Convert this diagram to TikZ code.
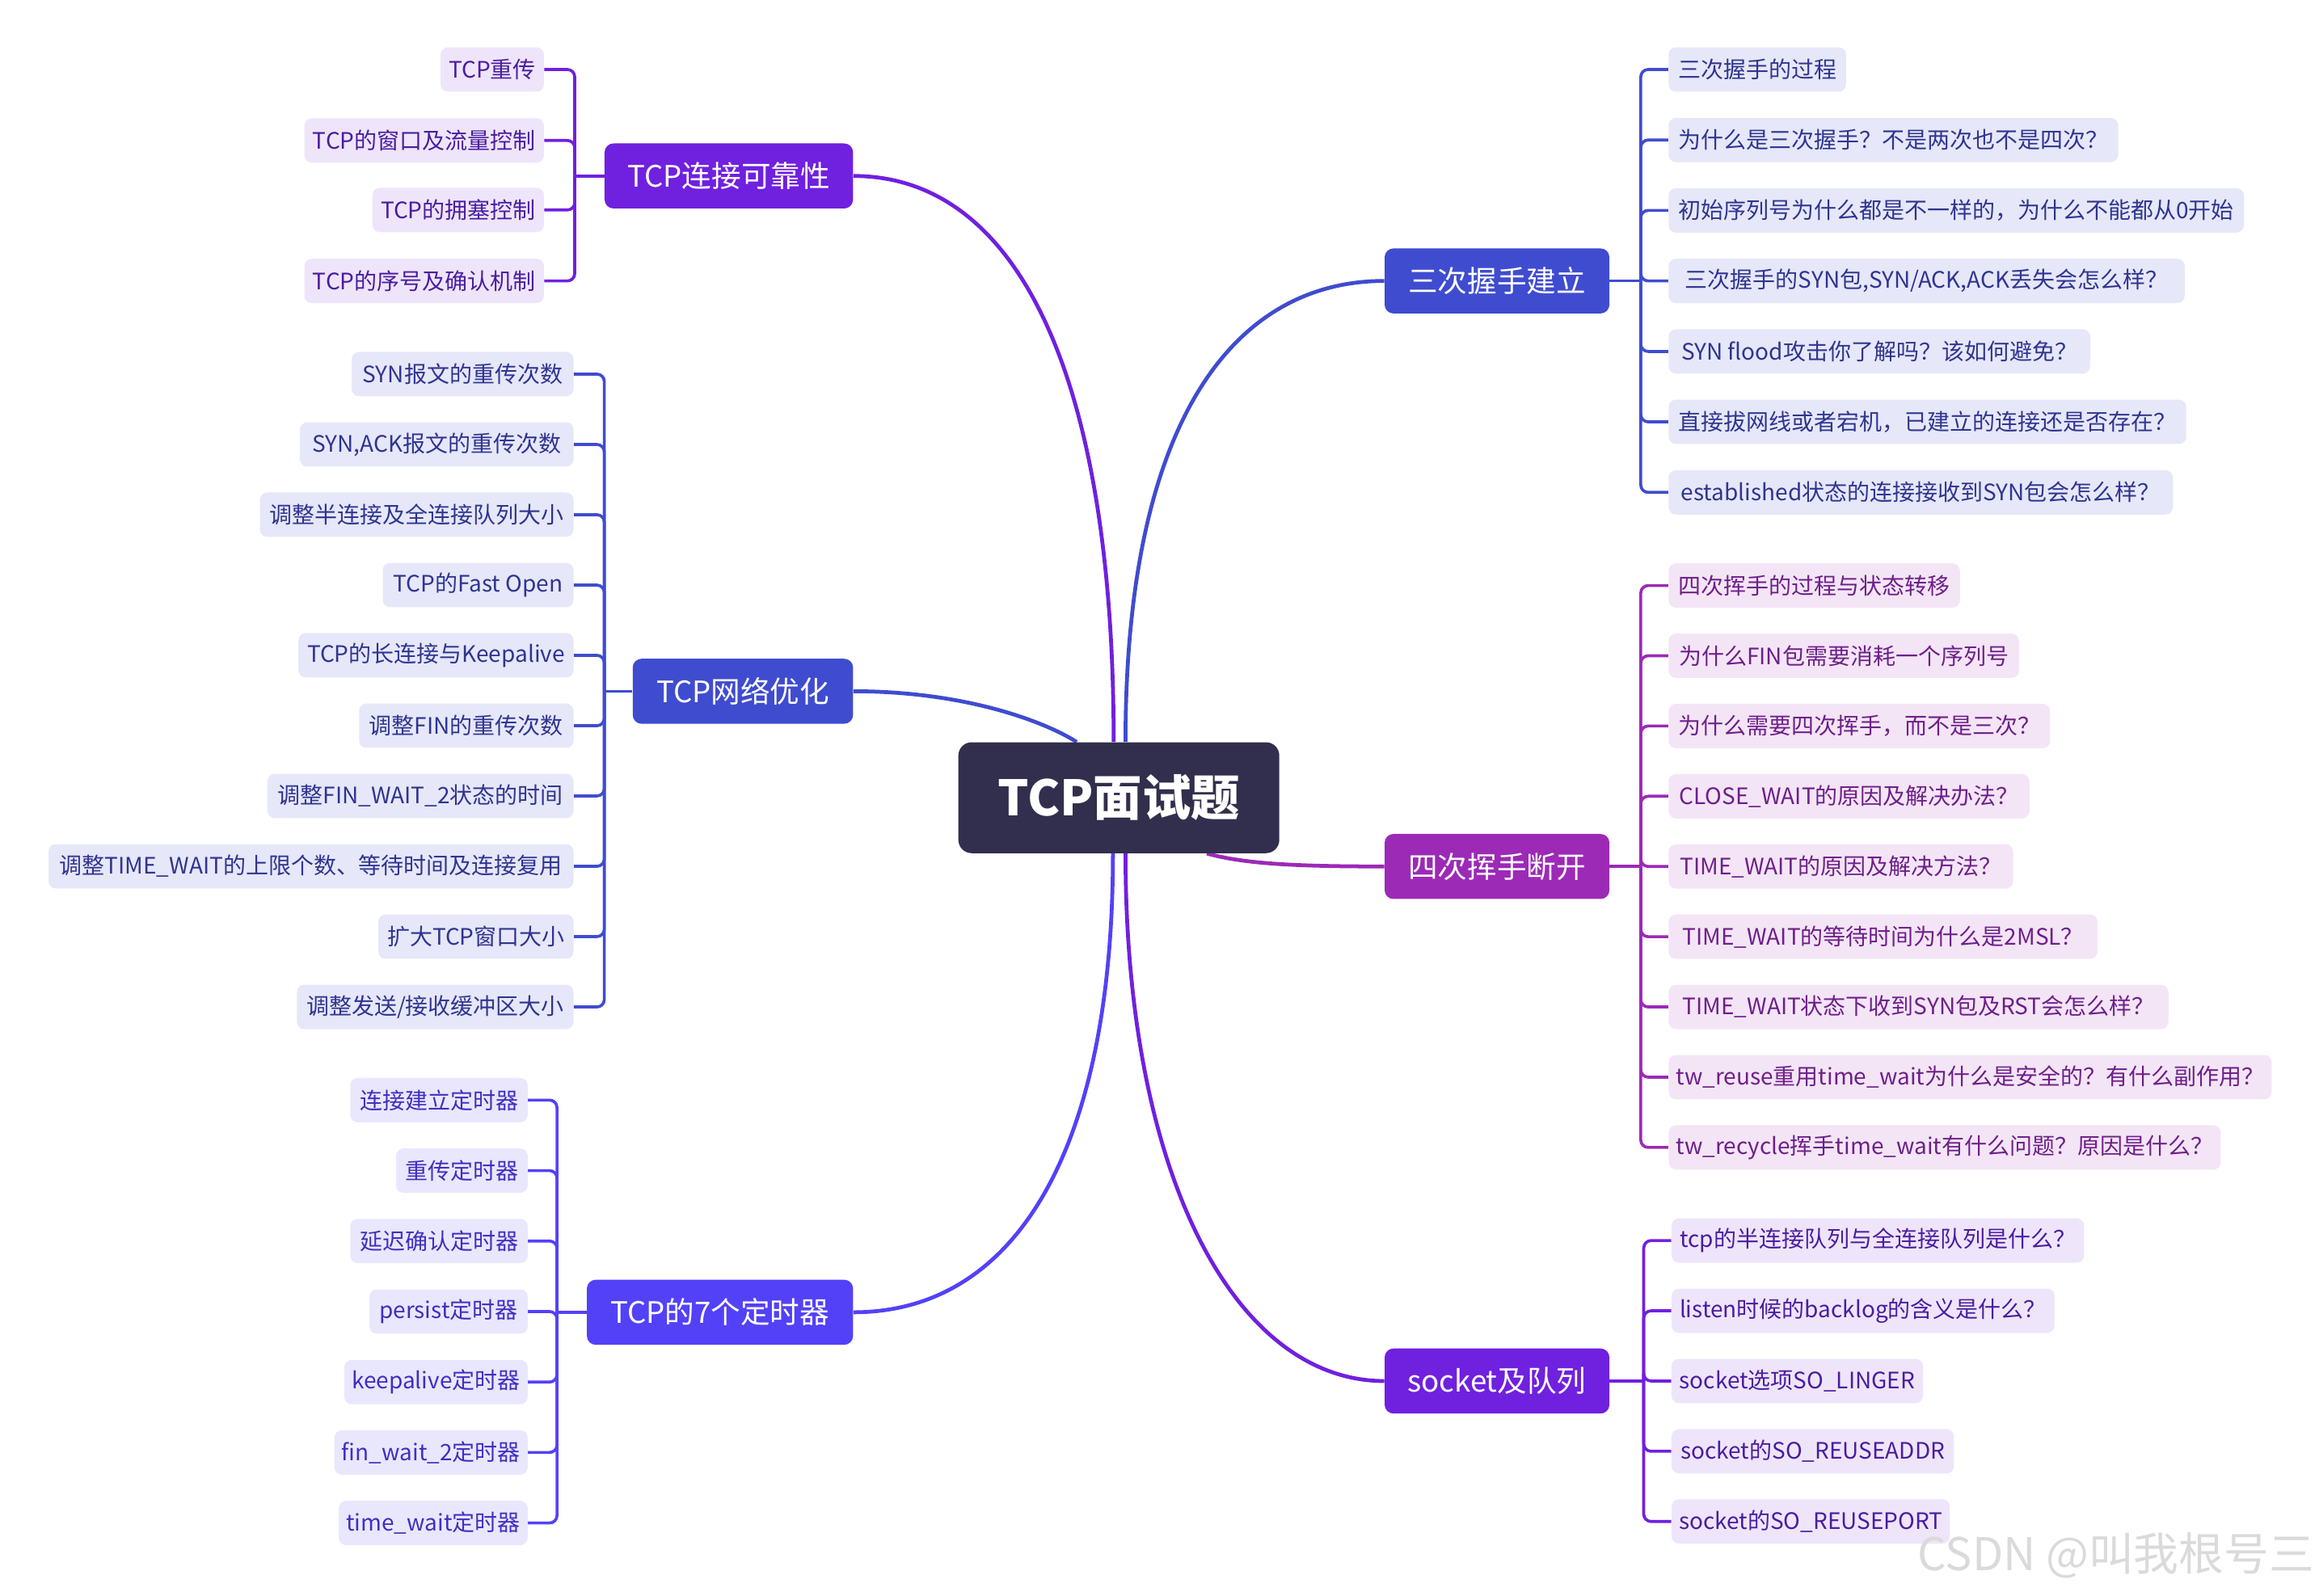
\documentclass[tikz,border=0pt]{standalone}
\usepackage{fontspec}
\setmainfont{Noto Sans CJK SC}
\usetikzlibrary{calc,backgrounds}
\definecolor{rootc}{HTML}{312F4D}
\definecolor{purp}{HTML}{7020DF}
\definecolor{blu}{HTML}{3F4CCF}
\definecolor{mag}{HTML}{9C2AB6}
\definecolor{vio}{HTML}{5341F8}
\definecolor{purpL}{HTML}{EEE5FB}
\definecolor{bluL}{HTML}{E6E7F8}
\definecolor{magL}{HTML}{F3E5F6}
\definecolor{vioL}{HTML}{E9E7FE}
\definecolor{purpT}{HTML}{4B1DA0}
\definecolor{bluT}{HTML}{2F3590}
\definecolor{magT}{HTML}{6F1F8A}
\definecolor{vioT}{HTML}{3F2FC0}
\definecolor{wmc}{HTML}{DADADA}
\tikzset{
  rootn/.style={fill=rootc, text=white, rounded corners=9pt, minimum width=217pt, minimum height=75pt, inner sep=0pt, font=\fontsize{33}{40}\selectfont\bfseries},
  branch/.style={text=white, rounded corners=6pt, minimum height=44pt, inner sep=0pt, font=\fontsize{20}{24}\selectfont},
  branchL/.style={branch, anchor=east},
  branchR/.style={branch, anchor=west},
  kid/.style={rounded corners=5pt, minimum height=30pt, inner xsep=5pt, inner ysep=0pt, font=\fontsize{15.3}{18}\selectfont},
  kidA/.style={kid, anchor=east, fill=purpL, text=purpT},
  kidB/.style={kid, anchor=east, fill=bluL, text=bluT},
  kidC/.style={kid, anchor=east, fill=vioL, text=vioT},
  kidD/.style={kid, anchor=west, fill=bluL, text=bluT},
  kidE/.style={kid, anchor=west, fill=magL, text=magT},
  kidF/.style={kid, anchor=west, fill=purpL, text=purpT},
  bus/.style={line width=2pt, rounded corners=5pt},
  trunk/.style={line width=2.6pt},
  wm/.style={text=wmc, font=\fontsize{30.5}{36}\selectfont, inner sep=0pt}
}
\begin{document}
\begin{tikzpicture}[x=1pt,y=-1pt]
\useasboundingbox (0,0) rectangle (1568,1079);

% root
\node[rootn] (root) at (756.5,539.5) {TCP面试题};

% branches
\node[branchL, fill=purp, minimum width=168pt] (b1) at (577,119) {TCP连接可靠性};
\node[branchL, fill=blu, minimum width=149pt] (b2) at (577,467.5) {TCP网络优化};
\node[branchL, fill=vio, minimum width=180pt] (b3) at (577,887.5) {TCP的7个定时器};
\node[branchR, fill=blu, minimum width=152pt] (b4) at (936,190) {三次握手建立};
\node[branchR, fill=mag, minimum width=152pt] (b5) at (936,586) {四次挥手断开};
\node[branchR, fill=purp, minimum width=152pt] (b6) at (936,934) {socket及队列};

% junction points on the buses
\coordinate (ja) at ([xshift=-20pt]b1.west);
\coordinate (jb) at ([xshift=-19pt]b2.west);
\coordinate (jc) at ([xshift=-20pt]b3.west);
\coordinate (jd) at ([xshift=21pt]b4.east);
\coordinate (je) at ([xshift=21pt]b5.east);
\coordinate (jf) at ([xshift=23pt]b6.east);

% TCP连接可靠性 children
\node[kidA, minimum width=70pt] (a1) at (368,47) {TCP重传};
\node[kidA, minimum width=162pt] (a2) at (368,95) {TCP的窗口及流量控制};
\node[kidA, minimum width=116pt] (a3) at (368,142) {TCP的拥塞控制};
\node[kidA, minimum width=162pt] (a4) at (368,190) {TCP的序号及确认机制};

% TCP网络优化 children
\node[kidB, minimum width=150pt] (n1) at (388,253) {SYN报文的重传次数};
\node[kidB, minimum width=185pt] (n2) at (388,300.6) {SYN,ACK报文的重传次数};
\node[kidB, minimum width=212pt] (n3) at (388,348.1) {调整半连接及全连接队列大小};
\node[kidB, minimum width=129pt] (n4) at (388,395.7) {TCP的Fast Open};
\node[kidB, minimum width=186pt] (n5) at (388,443.2) {TCP的长连接与Keepalive};
\node[kidB, minimum width=145pt] (n6) at (388,490.8) {调整FIN的重传次数};
\node[kidB, minimum width=207pt] (n7) at (388,538.3) {调整FIN\_WAIT\_2状态的时间};
\node[kidB, minimum width=355pt] (n8) at (388,585.9) {调整TIME\_WAIT的上限个数、等待时间及连接复用};
\node[kidB, minimum width=132pt] (n9) at (388,633.4) {扩大TCP窗口大小};
\node[kidB, minimum width=187pt] (n10) at (388,681) {调整发送/接收缓冲区大小};

% TCP的7个定时器 children
\node[kidC, minimum width=120pt] (t1) at (357,744) {连接建立定时器};
\node[kidC, minimum width=89pt] (t2) at (357,791.7) {重传定时器};
\node[kidC, minimum width=120pt] (t3) at (357,839.3) {延迟确认定时器};
\node[kidC, minimum width=107pt] (t4) at (357,887) {persist定时器};
\node[kidC, minimum width=124pt] (t5) at (357,934.7) {keepalive定时器};
\node[kidC, minimum width=127pt] (t6) at (357,982.3) {fin\_wait\_2定时器};
\node[kidC, minimum width=125pt] (t7) at (357,1030) {time\_wait定时器};

% 三次握手建立 children
\node[kidD, minimum width=120pt] (s1) at (1128,47) {三次握手的过程};
\node[kidD, minimum width=304pt] (s2) at (1128,94.7) {为什么是三次握手？不是两次也不是四次？};
\node[kidD, minimum width=389pt] (s3) at (1128,142.3) {初始序列号为什么都是不一样的，为什么不能都从0开始};
\node[kidD, minimum width=349pt] (s4) at (1128,190) {三次握手的SYN包,SYN/ACK,ACK丢失会怎么样？};
\node[kidD, minimum width=285pt] (s5) at (1128,237.7) {SYN flood攻击你了解吗？该如何避免？};
\node[kidD, minimum width=350pt] (s6) at (1128,285.3) {直接拔网线或者宕机，已建立的连接还是否存在？};
\node[kidD, minimum width=341pt] (s7) at (1128,333) {established状态的连接接收到SYN包会怎么样？};

% 四次挥手断开 children
\node[kidE, minimum width=197pt] (f1) at (1128,396) {四次挥手的过程与状态转移};
\node[kidE, minimum width=237pt] (f2) at (1128,443.5) {为什么FIN包需要消耗一个序列号};
\node[kidE, minimum width=258pt] (f3) at (1128,491) {为什么需要四次挥手，而不是三次？};
\node[kidE, minimum width=244pt] (f4) at (1128,538.5) {CLOSE\_WAIT的原因及解决办法？};
\node[kidE, minimum width=233pt] (f5) at (1128,586) {TIME\_WAIT的原因及解决方法？};
\node[kidE, minimum width=290pt] (f6) at (1128,633.5) {TIME\_WAIT的等待时间为什么是2MSL？};
\node[kidE, minimum width=338pt] (f7) at (1128,681) {TIME\_WAIT状态下收到SYN包及RST会怎么样？};
\node[kidE, minimum width=407pt] (f8) at (1128,728.5) {tw\_reuse重用time\_wait为什么是安全的？有什么副作用？};
\node[kidE, minimum width=373pt] (f9) at (1128,776) {tw\_recycle挥手time\_wait有什么问题？原因是什么？};

% socket及队列 children
\node[kidF, minimum width=279pt] (k1) at (1130,839) {tcp的半连接队列与全连接队列是什么？};
\node[kidF, minimum width=259pt] (k2) at (1130,886.5) {listen时候的backlog的含义是什么？};
\node[kidF, minimum width=170pt] (k3) at (1130,934) {socket选项SO\_LINGER};
\node[kidF, minimum width=191pt] (k4) at (1130,981.5) {socket的SO\_REUSEADDR};
\node[kidF, minimum width=187pt] (k5) at (1130,1029) {socket的SO\_REUSEPORT};

% watermark
\node[wm, anchor=east] (wm) at (1565,1052) {CSDN @叫我根号三};

% attachment points on the root
\coordinate (r1) at ([xshift=-3.5pt]root.north);
\coordinate (r4) at ([xshift=4.5pt]root.north);
\coordinate (r2) at ([xshift=-28.5pt]root.north);
\coordinate (r3) at ([xshift=-4pt]root.south);
\coordinate (r6) at ([xshift=4.5pt]root.south);
\coordinate (r5) at ([xshift=59.5pt]root.south);

\begin{scope}[on background layer]
  % trunks
  \draw[trunk, purp] (b1.east) .. controls +(110,0) and +(0,-250) .. (r1);
  \draw[trunk, blu] (b4.west) .. controls +(-100,0) and +(0,-220) .. (r4);
  \draw[trunk, blu] (b2.east) .. controls +(75,0) and +(-22,-14) .. (r2);
  \draw[trunk, vio] (b3.east) .. controls +(110,0) and +(0,200) .. (r3);
  \draw[trunk, purp] (b6.west) .. controls +(-100,0) and +(0,220) .. (r6);
  \draw[trunk, mag] (b5.west) .. controls +(-60,0) and +(25,7) .. (r5);
  % buses
  \draw[bus, purp] (b1.west) -- (ja);
  \foreach \k in {a1,a2,a3,a4} \draw[bus, purp] (ja) |- (\k.east);
  \draw[bus, blu] (b2.west) -- (jb);
  \foreach \k in {n1,n2,n3,n4,n5,n6,n7,n8,n9,n10} \draw[bus, blu] (jb) |- (\k.east);
  \draw[bus, vio] (b3.west) -- (jc);
  \foreach \k in {t1,t2,t3,t4,t5,t6,t7} \draw[bus, vio] (jc) |- (\k.east);
  \draw[bus, blu] (b4.east) -- (jd);
  \foreach \k in {s1,s2,s3,s4,s5,s6,s7} \draw[bus, blu] (jd) |- (\k.west);
  \draw[bus, mag] (b5.east) -- (je);
  \foreach \k in {f1,f2,f3,f4,f5,f6,f7,f8,f9} \draw[bus, mag] (je) |- (\k.west);
  \draw[bus, purp] (b6.east) -- (jf);
  \foreach \k in {k1,k2,k3,k4,k5} \draw[bus, purp] (jf) |- (\k.west);
\end{scope}
\end{tikzpicture}
\end{document}
